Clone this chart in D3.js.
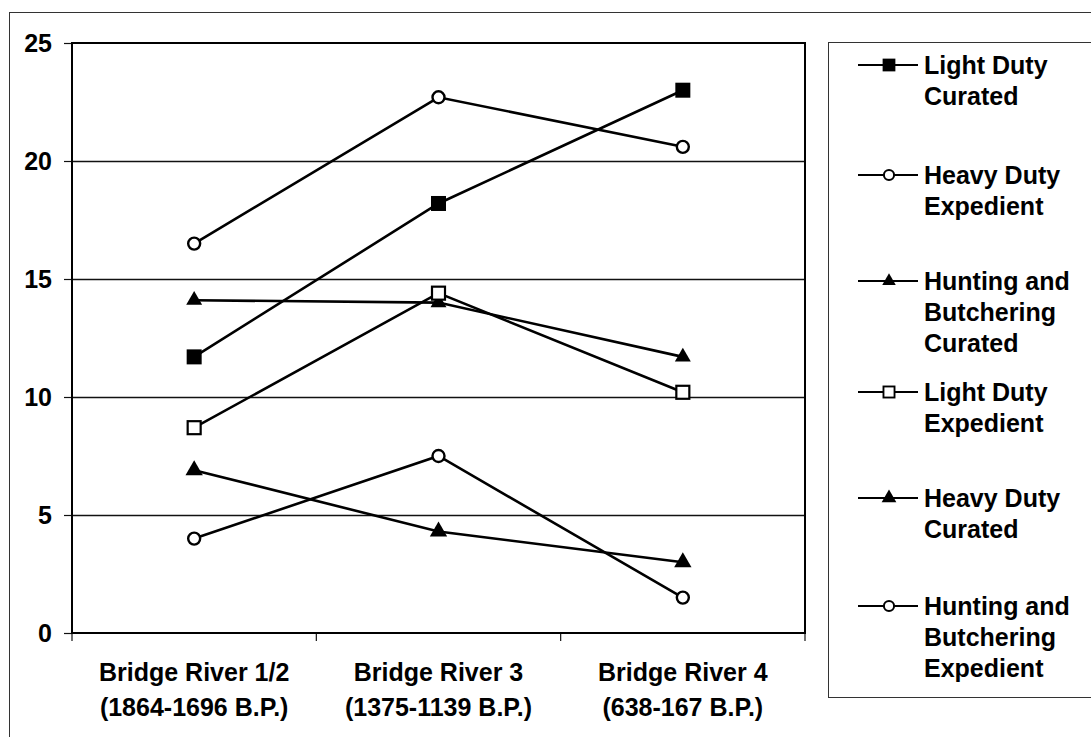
<!DOCTYPE html>
<html>
<head>
<meta charset="utf-8">
<script src="https://cdn.jsdelivr.net/npm/d3@7"></script>
<style>
  html, body { margin: 0; padding: 0; background: #fff; }
  svg { display: block; font-family: "Liberation Sans", Arial, sans-serif; }
</style>
</head>
<body>
<svg id="chart" width="1091" height="737"></svg>
<script>
// Tool counts by assemblage period
const periods = ["Bridge River 1/2", "Bridge River 3", "Bridge River 4"];
const periodDates = ["(1864-1696 B.P.)", "(1375-1139 B.P.)", "(638-167 B.P.)"];

const lightDutyCurated = [11.7, 18.2, 23.0];
const heavyDutyExpedient = [16.5, 22.7, 20.6];
const huntingButcheringCurated = [14.1, 14.0, 11.7];
const lightDutyExpedient = [8.7, 14.4, 10.2];
const heavyDutyCurated = [6.9, 4.3, 3.0];
const huntingButcheringExpedient = [4.0, 7.5, 1.5];

const yTicks = [0, 5, 10, 15, 20, 25];

const series = [
  { name: ["Light Duty", "Curated"], values: lightDutyCurated, marker: "squareFilled" },
  { name: ["Heavy Duty", "Expedient"], values: heavyDutyExpedient, marker: "circleOpen" },
  { name: ["Hunting and", "Butchering", "Curated"], values: huntingButcheringCurated, marker: "triangleSmall" },
  { name: ["Light Duty", "Expedient"], values: lightDutyExpedient, marker: "squareOpen" },
  { name: ["Heavy Duty", "Curated"], values: heavyDutyCurated, marker: "triangle" },
  { name: ["Hunting and", "Butchering", "Expedient"], values: huntingButcheringExpedient, marker: "circleOpen" }
];

const svg = d3.select("#chart");
const W = 1091, H = 737;
const plot = { left: 72, right: 805, top: 43, bottom: 633 };
const font = "bold 25px 'Liberation Sans', Arial, sans-serif";

svg.append("rect").attr("width", W).attr("height", H).attr("fill", "#fff");

// outer chart frame (runs off the right and bottom edges)
svg.append("rect")
  .attr("x", 9.5).attr("y", 12.5)
  .attr("width", W + 20).attr("height", H + 20)
  .attr("fill", "none").attr("stroke", "#333").attr("stroke-width", 1);

const x = d3.scaleBand().domain(periods).range([plot.left, plot.right]).paddingInner(0).paddingOuter(0);
const y = d3.scaleLinear().domain([0, 25]).range([plot.bottom, plot.top]);

// horizontal gridlines
svg.append("g").selectAll("line").data(yTicks.filter(t => t > 0 && t < 25)).join("line")
  .attr("x1", plot.left).attr("x2", plot.right)
  .attr("y1", d => y(d) + 0.5).attr("y2", d => y(d) + 0.5)
  .attr("stroke", "#111").attr("stroke-width", 1.3);

// y axis
const yAxis = svg.append("g")
  .attr("transform", `translate(${plot.left},0)`)
  .call(d3.axisLeft(y).tickValues(yTicks).tickSize(8).tickPadding(12).tickFormat(d3.format("d")));
yAxis.select(".domain").remove();
yAxis.selectAll(".tick line").attr("stroke", "#111").attr("stroke-width", 1.2);
yAxis.selectAll(".tick text").style("font", font).attr("fill", "#000");

// x axis with ticks on category boundaries
const xAxis = svg.append("g")
  .attr("transform", `translate(0,${plot.bottom})`)
  .call(d3.axisBottom(x).tickSize(0).tickFormat(""));
xAxis.select(".domain").remove();
xAxis.selectAll(".tick text").remove();
const boundaries = periods.map(p => x(p)).concat([x(periods[periods.length - 1]) + x.bandwidth()]);
svg.append("g").selectAll("line").data(boundaries).join("line")
  .attr("x1", d => d).attr("x2", d => d)
  .attr("y1", plot.bottom).attr("y2", plot.bottom + 8)
  .attr("stroke", "#111").attr("stroke-width", 1.2);

// category labels (two lines)
const catLabels = svg.append("g").selectAll("text").data(periods).join("text")
  .attr("x", d => x(d) + x.bandwidth() / 2)
  .attr("text-anchor", "middle")
  .style("font", font).attr("fill", "#000");
catLabels.append("tspan").attr("x", d => x(d) + x.bandwidth() / 2).attr("y", 681).text(d => d);
catLabels.append("tspan").attr("x", d => x(d) + x.bandwidth() / 2).attr("y", 716).text((d, i) => periodDates[i]);

// plot frame
svg.append("rect")
  .attr("x", plot.left).attr("y", plot.top)
  .attr("width", plot.right - plot.left).attr("height", plot.bottom - plot.top)
  .attr("fill", "none").attr("stroke", "#000").attr("stroke-width", 2);

// marker drawing
function drawMarker(g, type) {
  switch (type) {
    case "squareFilled":
      g.append("rect").attr("x", -7.5).attr("y", -7.5).attr("width", 15).attr("height", 15).attr("fill", "#000");
      break;
    case "squareOpen":
      g.append("rect").attr("x", -6.5).attr("y", -6.5).attr("width", 13).attr("height", 13)
        .attr("fill", "#fff").attr("stroke", "#000").attr("stroke-width", 2.2);
      break;
    case "circleOpen":
      g.append("circle").attr("r", 6).attr("fill", "#fff").attr("stroke", "#000").attr("stroke-width", 2.4);
      break;
    case "triangle":
      g.append("path").attr("d", d3.symbol(d3.symbolTriangle, 130)()).attr("fill", "#000");
      break;
    case "triangleSmall":
      g.append("path").attr("d", d3.symbol(d3.symbolTriangle, 110)()).attr("fill", "#000");
      break;
  }
}

const line = d3.line()
  .x((d, i) => x(periods[i]) + x.bandwidth() / 2)
  .y(d => y(d));

const seriesG = svg.append("g");
series.forEach(s => {
  seriesG.append("path").datum(s.values)
    .attr("d", line)
    .attr("fill", "none").attr("stroke", "#000").attr("stroke-width", 2.6);
});
series.forEach(s => {
  s.values.forEach((v, i) => {
    const g = seriesG.append("g")
      .attr("transform", `translate(${x(periods[i]) + x.bandwidth() / 2},${y(v)})`);
    drawMarker(g, s.marker);
  });
});

// legend
const legend = svg.append("g");
legend.append("rect")
  .attr("x", 828.5).attr("y", 42.5).attr("width", 300).attr("height", 655)
  .attr("fill", "#fff").attr("stroke", "#333").attr("stroke-width", 1);

const legendTops = [65, 175, 281, 392, 498, 606];
series.forEach((s, i) => {
  const ly = legendTops[i];
  const g = legend.append("g");
  g.append("line").attr("x1", 858).attr("x2", 918).attr("y1", ly).attr("y2", ly)
    .attr("stroke", "#000").attr("stroke-width", 2);
  const m = g.append("g");
  drawMarker(m, s.marker);
  m.attr("transform", `translate(889,${ly}) scale(0.85)`);
  const t = g.append("text").style("font", font).attr("fill", "#000");
  s.name.forEach((ln, j) => {
    t.append("tspan").attr("x", 924).attr("y", ly + 9 + j * 31).text(ln);
  });
});
</script>
</body>
</html>
